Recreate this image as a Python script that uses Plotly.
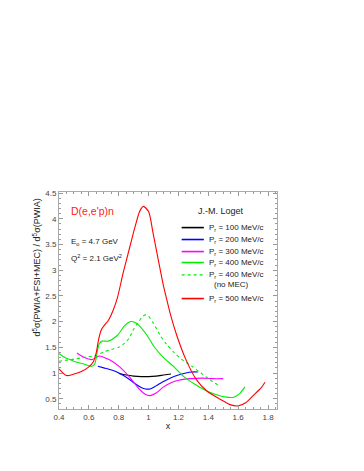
import plotly.graph_objects as go

# ---- data ----
x_100 = [0.80, 0.85, 0.90, 0.95, 1.00, 1.05, 1.10, 1.15]
y_100 = [0.99, 0.96, 0.94, 0.93, 0.93, 0.94, 0.96, 0.98]

x_200 = [0.66, 0.70, 0.74, 0.78, 0.82, 0.87, 0.91, 0.95, 0.98, 1.01, 1.05, 1.09, 1.13, 1.17, 1.21, 1.25, 1.29, 1.33]
y_200 = [1.13, 1.10, 1.07, 1.03, 0.97, 0.88, 0.79, 0.72, 0.69, 0.69, 0.75, 0.82, 0.88, 0.93, 0.97, 1.00, 1.02, 1.02]

x_300 = [0.52, 0.57, 0.62, 0.67, 0.72, 0.76, 0.81, 0.87, 0.94, 0.98, 1.01, 1.05, 1.10, 1.15, 1.20, 1.28, 1.36, 1.43, 1.50]
y_300 = [1.39, 1.30, 1.26, 1.33, 1.28, 1.22, 1.11, 0.93, 0.68, 0.58, 0.56, 0.61, 0.73, 0.81, 0.86, 0.89, 0.90, 0.89, 0.89]

x_400 = [0.40, 0.44, 0.50, 0.57, 0.62, 0.64, 0.655, 0.67, 0.69, 0.73, 0.79, 0.84, 0.88, 0.91, 0.94, 0.99, 1.04, 1.10, 1.17, 1.24, 1.31, 1.37, 1.45, 1.52, 1.57, 1.61, 1.645]
y_400 = [1.38, 1.30, 1.23, 1.17, 1.13, 1.18, 1.40, 1.57, 1.62, 1.62, 1.73, 1.92, 2.00, 1.98, 1.91, 1.73, 1.50, 1.30, 1.12, 0.92, 0.78, 0.68, 0.58, 0.53, 0.53, 0.60, 0.73]

x_400n = [0.40, 0.50, 0.56, 0.64, 0.70, 0.75, 0.80, 0.84, 0.87, 0.90, 0.93, 0.96, 0.98, 1.00, 1.03, 1.08, 1.12, 1.17, 1.22, 1.29, 1.35, 1.41, 1.48]
y_400n = [1.23, 1.27, 1.30, 1.34, 1.41, 1.46, 1.50, 1.58, 1.68, 1.85, 1.98, 2.10, 2.13, 2.10, 1.98, 1.72, 1.56, 1.40, 1.27, 1.13, 1.00, 0.87, 0.74]

x_500 = [0.40, 0.45, 0.50, 0.55, 0.60, 0.63, 0.65, 0.665, 0.685, 0.71, 0.73, 0.76, 0.79, 0.83, 0.875, 0.91, 0.94, 0.965, 1.00, 1.03, 1.065, 1.10, 1.12, 1.15, 1.19, 1.25, 1.32, 1.39, 1.48, 1.55, 1.60, 1.65, 1.70, 1.75, 1.78]
y_500 = [1.08, 0.95, 0.98, 1.03, 1.12, 1.22, 1.40, 1.65, 1.85, 1.95, 2.02, 2.20, 2.45, 2.95, 3.46, 3.85, 4.14, 4.24, 4.14, 3.72, 3.20, 2.69, 2.45, 2.10, 1.72, 1.26, 0.87, 0.65, 0.49, 0.38, 0.36, 0.42, 0.56, 0.70, 0.82]

labels = ["P<sub>r</sub> = 100 MeV/c", "P<sub>r</sub> = 200 MeV/c", "P<sub>r</sub> = 300 MeV/c",
          "P<sub>r</sub> = 400 MeV/c", "P<sub>r</sub> = 400 MeV/c", "P<sub>r</sub> = 500 MeV/c"]

FONT = "Liberation Sans, Arial, sans-serif"
series = [
    (x_100, y_100, "#000000", "solid"),
    (x_200, y_200, "#0000ff", "solid"),
    (x_300, y_300, "#ff00ff", "solid"),
    (x_400, y_400, "#00ee00", "solid"),
    (x_400n, y_400n, "#00ee00", "dot"),
    (x_500, y_500, "#ff0000", "solid"),
]

fig = go.Figure()
for xs, ys, col, dash in series:
    fig.add_trace(go.Scatter(x=xs, y=ys, mode="lines", showlegend=False,
                             line=dict(color=col, width=1.1, dash=dash, shape="spline", smoothing=0.7)))

# manual legend
row_y = [0.836, 0.781, 0.7255, 0.675, 0.618, 0.509]
shapes = []
annotations = []
for (xs, ys, col, dash), lab, ry in zip(series, labels, row_y):
    shapes.append(dict(type="line", xref="paper", yref="paper", x0=0.5626, x1=0.6644, y0=ry, y1=ry,
                       line=dict(color=col, width=1.6 if dash == "solid" else 1.1, dash=dash)))
    annotations.append(dict(xref="paper", yref="paper", x=0.677, y=ry, text=lab, showarrow=False,
                            xanchor="left", yanchor="middle", font=dict(family=FONT, size=8, color="#222")))
annotations.append(dict(xref="paper", yref="paper", x=0.70, y=0.572, text="(no MEC)", showarrow=False,
                        xanchor="left", yanchor="middle", font=dict(family=FONT, size=8, color="#222")))
annotations.append(dict(xref="paper", yref="paper", x=0.742, y=0.9126, text="J.-M. Loget", showarrow=False,
                        xanchor="center", yanchor="middle", font=dict(family=FONT, size=9, color="#222")))
annotations.append(dict(xref="paper", yref="paper", x=0.044, y=0.9126, text="D(e,e'p)n", showarrow=False,
                        xanchor="left", yanchor="middle", font=dict(family=FONT, size=10.5, color="#ff2020")))
annotations.append(dict(xref="paper", yref="paper", x=0.044, y=0.7715, text="E<sub>o</sub> = 4.7 GeV", showarrow=False,
                        xanchor="left", yanchor="middle", font=dict(family=FONT, size=8, color="#222")))
annotations.append(dict(xref="paper", yref="paper", x=0.044, y=0.698, text="Q<sup>2</sup> = 2.1 GeV<sup>2</sup>", showarrow=False,
                        xanchor="left", yanchor="middle", font=dict(family=FONT, size=8, color="#222")))
annotations.append(dict(xref="paper", yref="paper", x=-0.103, y=0.65,
                        text="d<sup>5</sup>σ(PWIA+FSI+MEC) / d<sup>5</sup>σ(PWIA)", showarrow=False,
                        textangle=-90, xanchor="center", yanchor="middle",
                        font=dict(family=FONT, size=9, color="#222")))

axis_common = dict(showline=True, linecolor="#aaaaaa", linewidth=1, mirror="allticks",
                   ticks="inside", ticklen=4, tickcolor="#999999", tickwidth=1,
                   showgrid=False, zeroline=False,
                   tickfont=dict(family=FONT, size=8, color="#444444"))

fig.update_layout(
    width=364, height=471,
    margin=dict(l=50.5, r=94.5, t=184, b=69.5),
    paper_bgcolor="white", plot_bgcolor="white",
    showlegend=False,
    shapes=shapes, annotations=annotations,
    xaxis=dict(range=[0.4, 1.86], dtick=0.2, tick0=0.4,
               minor=dict(dtick=0.05, ticks="inside", ticklen=2, tickcolor="#999999"),
               title=dict(text="x", font=dict(family=FONT, size=9, color="#222"), standoff=2),
               **axis_common),
    yaxis=dict(range=[0.3, 4.52], dtick=0.5, tick0=0.5,
               minor=dict(dtick=0.1, ticks="inside", ticklen=2, tickcolor="#999999"),
               **axis_common),
)

fig.write_html("out.html")
